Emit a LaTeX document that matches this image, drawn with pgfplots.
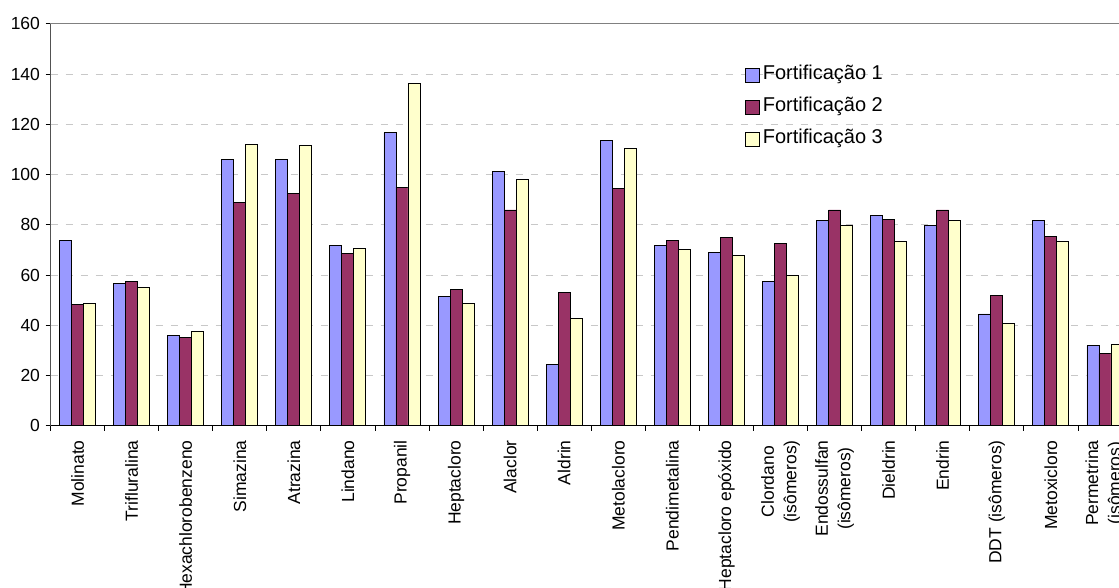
\documentclass[border=0pt]{standalone}
\usepackage{fontspec}
\setmainfont{Liberation Sans}
\usepackage{pgfplots}
\pgfplotsset{compat=1.18}
\definecolor{fA}{HTML}{9999FF}
\definecolor{fB}{HTML}{993366}
\definecolor{fC}{HTML}{FFFFCC}
\definecolor{gridc}{HTML}{C8C8C8}
\definecolor{framec}{HTML}{808080}
\pgfplotsset{legsq/.style={legend image code/.code={\draw[##1, line width=0.8pt] (0pt,-7pt) rectangle (14pt,7pt);}}}
\begin{document}
\begin{tikzpicture}
\path[use as bounding box, clip] (0pt,0pt) rectangle (1119pt,588pt);
\begin{axis}[
  at={(50.5pt,162.2pt)}, anchor=south west,
  scale only axis, width=1081.5pt, height=402pt,
  ybar=0pt, bar width=12pt,
  xmin=-0.5, xmax=19.5, ymin=0, ymax=160,
  ytick={0,20,...,160},
  xtick={0,...,19},
  xticklabels={Molinato,Trifluralina,Hexachlorobenzeno,Simazina,Atrazina,Lindano,Propanil,Heptacloro,Alaclor,Aldrin,Metolacloro,Pendimetalina,Heptacloro epóxido,{Clordano\\(isômeros)},{Endossulfan\\(isômeros)},Dieldrin,Endrin,DDT (isômeros),Metoxicloro,{Permetrina\\(isômeros)}},
  minor xtick={-0.5,0.5,...,19.5},
  major x tick style={draw=none},
  minor x tick style={black, line width=0.8pt},
  minor tick length=5pt,
  major tick length=5pt,
  y tick style={black, line width=0.8pt},
  tick align=outside,
  xtick pos=bottom, ytick pos=left,
  ymajorgrids,
  major grid style={gridc, line width=0.8pt, dash pattern=on 7pt off 8pt},
  axis line style={framec, line width=0.8pt},
  /pgf/number format/assume math mode=true,
  tick label style={font=\fontsize{17.5}{22.5}\selectfont},
  yticklabel style={xshift=-2pt},
  xticklabel style={rotate=90, anchor=east, align=center, yshift=0pt, xshift=-6pt},
  legend style={at={(0.642,0.903)}, anchor=north west, draw=none, fill=none,
    font=\fontsize{20}{24}\selectfont, row sep=8pt, inner sep=0pt,
    nodes={inner sep=3pt, text height=14pt, text depth=4pt}},
  legend cell align=left,
]
\addplot[legsq, fill=fA, draw=black, line width=0.9pt] coordinates {
(0,73.6) (1,56.8) (2,36.1) (3,106.0) (4,106.0) (5,71.6) (6,116.7) (7,51.3) (8,101.3) (9,24.4)
(10,113.5) (11,71.6) (12,69.0) (13,57.3) (14,81.7) (15,83.8) (16,79.6) (17,44.5) (18,81.7) (19,31.8)};
\addplot[legsq, fill=fB, draw=black, line width=0.9pt] coordinates {
(0,48.3) (1,57.3) (2,35.0) (3,88.7) (4,92.5) (5,68.6) (6,95.0) (7,54.1) (8,85.9) (9,53.0)
(10,94.4) (11,73.6) (12,74.8) (13,72.7) (14,85.9) (15,82.2) (16,85.9) (17,52.0) (18,75.3) (19,28.6)};
\addplot[legsq, fill=fC, draw=black, line width=0.9pt] coordinates {
(0,48.8) (1,55.2) (2,37.7) (3,112.0) (4,111.4) (5,70.4) (6,136.4) (7,48.7) (8,98.1) (9,42.9)
(10,110.4) (11,70.0) (12,67.9) (13,59.9) (14,79.6) (15,73.2) (16,81.7) (17,40.8) (18,73.2) (19,32.4)};
\legend{Fortificação 1,Fortificação 2,Fortificação 3}
\draw[black, line width=0.9pt] (rel axis cs:0,0) -- (rel axis cs:0,1);
\draw[black, line width=0.9pt] (rel axis cs:0,0) -- (rel axis cs:1,0);
\end{axis}
\end{tikzpicture}
\end{document}
